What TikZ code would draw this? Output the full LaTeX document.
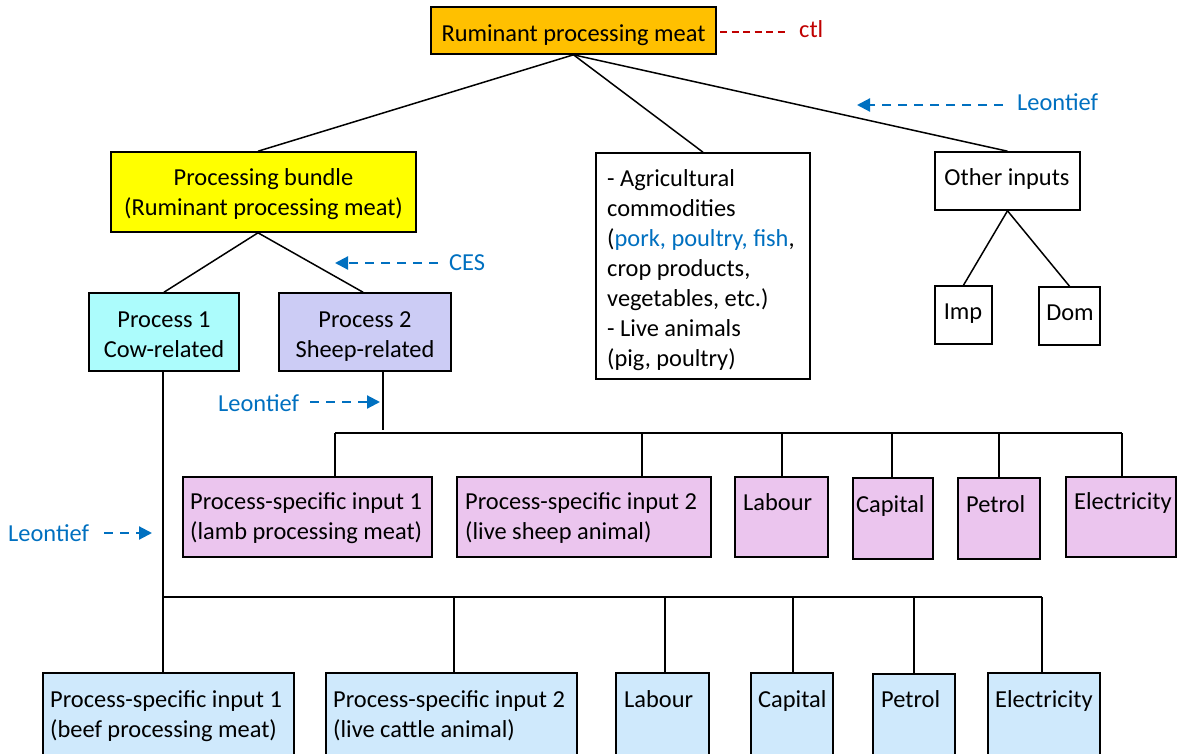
\documentclass[tikz,border=0pt]{standalone}
\usepackage{fontspec}
\setmainfont{Carlito}
\usetikzlibrary{arrows.meta,fit}

\definecolor{topfill}{RGB}{255,192,0}
\definecolor{bundlefill}{RGB}{255,255,0}
\definecolor{cowfill}{RGB}{172,252,252}
\definecolor{sheepfill}{RGB}{204,204,245}
\definecolor{sheepin}{RGB}{235,197,238}
\definecolor{cowin}{RGB}{207,233,252}
\definecolor{leoblue}{RGB}{0,112,192}
\definecolor{ctlred}{RGB}{192,0,0}

\begin{document}
\begin{tikzpicture}[x=1pt,y=-1pt,
  box/.style={draw=black, line width=1.6pt, inner sep=0pt},
  txt/.style={inner sep=0pt, font=\fontsize{24.4}{30}\selectfont},
  conn/.style={draw=black, line width=1.5pt},
  leoarrow/.style={draw=leoblue, line width=2.2pt, dash pattern=on 9pt off 7pt,
    -{Triangle[length=13pt,width=13pt]}},
  ctlline/.style={draw=ctlred, line width=1.6pt, dash pattern=on 7pt off 4.5pt},
]
\useasboundingbox (0,0) rectangle (1179,753);
\clip (0,0) rectangle (1179,753);

% ---------- upper tree ----------
\node[box, fill=topfill, fit={(431,7)(716,54)}] (top) {};
\node[txt, anchor=base] (topT) at (573.5,41) {Ruminant processing meat};

\node[box, fill=bundlefill, fit={(111,152)(416,232)}] (bundle) {};
\node[txt, anchor=north, align=center] (bundleT) at (263.5,164)
  {\strut Processing bundle\\(Ruminant processing meat)};

\node[box, fill=cowfill, fit={(89,293)(239,371)}] (p1) {};
\node[txt, anchor=north, align=center] (p1T) at (164,306) {\strut Process 1\\Cow-related};

\node[box, fill=sheepfill, fit={(279,293)(451,371)}] (p2) {};
\node[txt, anchor=north, align=center] (p2T) at (365,306) {\strut Process 2\\Sheep-related};

\node[box, fill=white, fit={(596,153)(810,379)}] (agri) {};
\begin{scope}
  \clip (597,154) rectangle (809,370);
  \node[txt, anchor=north west, align=left] (agriT) at (607,165)
    {\strut- Agricultural\\commodities\\(\textcolor{leoblue}{pork, poultry, fish},\\crop products,\\vegetables, etc.)\\- Live animals\\(pig, poultry)};
\end{scope}

\node[box, fill=white, fit={(935,152)(1080,210)}] (other) {};
\node[txt, anchor=base] (otherT) at (1007,185) {Other inputs};

\node[box, fill=white, fit={(935,286)(992,344)}] (imp) {};
\node[txt, anchor=base] (impT) at (963,319) {Imp};
\node[box, fill=white, fit={(1039,287)(1100,345)}] (dom) {};
\node[txt, anchor=base] (domT) at (1070,320) {Dom};

% ---------- sheep-related inputs ----------
\node[box, fill=sheepin, fit={(183,477)(432,557)}] (s1) {};
\node[txt, anchor=north west, align=left] (s1T) at (190,488)
  {\strut Process-specific input 1\\(lamb processing meat)};
\node[box, fill=sheepin, fit={(457,477)(711,557)}] (s2) {};
\node[txt, anchor=north west, align=left] (s2T) at (465,488)
  {\strut Process-specific input 2\\(live sheep animal)};
\node[box, fill=sheepin, fit={(735,477)(828,557)}] (s3) {};
\node[txt, anchor=base west] (s3T) at (743,510) {Labour};
\node[box, fill=sheepin, fit={(853,478)(933,559)}] (s4) {};
\node[txt, anchor=base west] (s4T) at (856,512) {Capital};
\node[box, fill=sheepin, fit={(958,478)(1040,559)}] (s5) {};
\node[txt, anchor=base west] (s5T) at (966,512) {Petrol};
\node[box, fill=sheepin, fit={(1066,477)(1176,557)}] (s6) {};
\node[txt, anchor=base west] (s6T) at (1074,509) {Electricity};

% ---------- cow-related inputs ----------
\node[box, fill=cowin, fit={(43,673)(294,775)}] (c1) {};
\node[txt, anchor=north west, align=left] (c1T) at (50,686)
  {\strut Process-specific input 1\\(beef processing meat)};
\node[box, fill=cowin, fit={(326,673)(577,775)}] (c2) {};
\node[txt, anchor=north west, align=left] (c2T) at (333,686)
  {\strut Process-specific input 2\\(live cattle animal)};
\node[box, fill=cowin, fit={(616,673)(709,775)}] (c3) {};
\node[txt, anchor=base west] (c3T) at (624,707) {Labour};
\node[box, fill=cowin, fit={(751,673)(833,775)}] (c4) {};
\node[txt, anchor=base west] (c4T) at (758,707) {Capital};
\node[box, fill=cowin, fit={(873,674)(955,775)}] (c5) {};
\node[txt, anchor=base west] (c5T) at (881,707) {Petrol};
\node[box, fill=cowin, fit={(988,673)(1100,775)}] (c6) {};
\node[txt, anchor=base west] (c6T) at (995,707) {Electricity};

% ---------- tree connectors ----------
\draw[conn] (top.south) -- ([xshift=-5.5pt]bundle.north);
\draw[conn] (top.south) -- (agri.north);
\draw[conn] (top.south) -- (other.north);
\draw[conn] ([xshift=-5.5pt]bundle.south) -- (p1.north);
\draw[conn] ([xshift=-5.5pt]bundle.south) -- ([xshift=-2pt]p2.north);
\draw[conn] (other.south) -- (imp.north);
\draw[conn] (other.south) -- (dom.north);

% sheep bus
\coordinate (sv) at (383,430);
\coordinate (sbL) at (335,433);
\coordinate (sd2) at (642,433);
\coordinate (sd3) at (782,433);
\coordinate (sd4) at (892,433);
\coordinate (sd5) at (999,433);
\coordinate (sbR) at (1122,433);
\draw[conn] (p2.south -| sv) -- (sv);
\draw[conn] (sbL) -- (sbR);
\draw[conn] (sbL) -- (sbL |- s1.north);
\draw[conn] (sd2) -- (sd2 |- s2.north);
\draw[conn] (sd3) -- (sd3 |- s3.north);
\draw[conn] (sd4) -- (sd4 |- s4.north);
\draw[conn] (sd5) -- (sd5 |- s5.north);
\draw[conn] (sbR) -- (sbR |- s6.north);

% cow bus
\coordinate (cbL) at (163,597);
\coordinate (cd2) at (454,597);
\coordinate (cd3) at (665,597);
\coordinate (cd4) at (793,597);
\coordinate (cd5) at (914,597);
\coordinate (cbR) at (1042,597);
\draw[conn] (p1.south -| cbL) -- (cbL |- c1.north);
\draw[conn] (cbL) -- (cbR);
\draw[conn] (cd2) -- (cd2 |- c2.north);
\draw[conn] (cd3) -- (cd3 |- c3.north);
\draw[conn] (cd4) -- (cd4 |- c4.north);
\draw[conn] (cd5) -- (cd5 |- c5.north);
\draw[conn] (cbR) -- (cbR |- c6.north);

% ---------- elasticity labels ----------
\coordinate (ctlA) at (720,32);
\coordinate (ctlB) at (788,32);
\draw[ctlline] (ctlA) -- (ctlB);
\node[txt, text=ctlred, anchor=base west] (ctl) at (799,37) {ctl};

\coordinate (leoTopA) at (1003,105);
\coordinate (leoTopB) at (857,105);
\draw[leoarrow] (leoTopA) -- (leoTopB);
\node[txt, text=leoblue, anchor=base west] (leoTop) at (1017,110) {Leontief};

\coordinate (cesA) at (438,263);
\coordinate (cesB) at (335,263);
\draw[leoarrow] (cesA) -- (cesB);
\node[txt, text=leoblue, anchor=base west] (ces) at (449,270) {CES};

\coordinate (leoMidA) at (310,402);
\coordinate (leoMidB) at (380,402);
\draw[leoarrow] (leoMidA) -- (leoMidB);
\node[txt, text=leoblue, anchor=base west] (leoMid) at (218,411) {Leontief};

\coordinate (leoLeftA) at (104,533);
\coordinate (leoLeftB) at (152,533);
\draw[leoarrow] (leoLeftA) -- (leoLeftB);
\node[txt, text=leoblue, anchor=base west] (leoLeft) at (8,541) {Leontief};
\end{tikzpicture}
\end{document}
